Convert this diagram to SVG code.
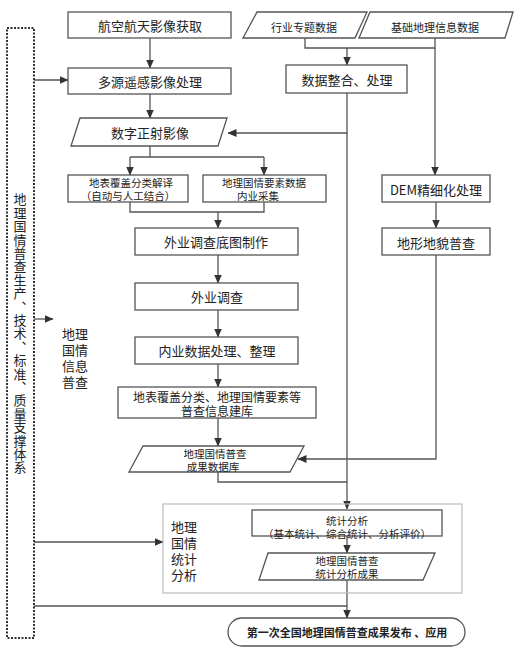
<svg xmlns="http://www.w3.org/2000/svg" width="531" height="650" viewBox="0 0 531 650">
<defs>
<marker id="arr" markerWidth="9" markerHeight="8" refX="8.5" refY="4" orient="auto" markerUnits="userSpaceOnUse">
<path d="M0,0 L9,4 L0,8 Z" fill="#333"/>
</marker>
<style>
.box{fill:#fff;stroke:#555;stroke-width:1.3}
.ln{fill:none;stroke:#555;stroke-width:1.3}
.t{font-family:"Noto Sans CJK SC","Noto Sans",sans-serif;fill:#222;text-anchor:middle;dominant-baseline:central}
.t13{font-size:13px}
.t11{font-size:11px}
.t10{font-size:10.5px}
.t12{font-size:12px}
</style>
</defs>
<rect width="531" height="650" fill="#fff"/>

<g id="connectors">
<path class="ln" d="M150,38 V68" marker-end="url(#arr)"/>
<path class="ln" d="M150,94 V118" marker-end="url(#arr)"/>
<path class="ln" d="M34,80 H68" marker-end="url(#arr)"/>
<path class="ln" d="M150,146 V157 M130,157 H264"/>
<path class="ln" d="M130,157 V175" marker-end="url(#arr)"/>
<path class="ln" d="M264,157 V175" marker-end="url(#arr)"/>
<path class="ln" d="M130,202 V212 H264 V202"/>
<path class="ln" d="M218,212 V228" marker-end="url(#arr)"/>
<path class="ln" d="M218,255 V283" marker-end="url(#arr)"/>
<path class="ln" d="M218,310 V337" marker-end="url(#arr)"/>
<path class="ln" d="M218,364 V387" marker-end="url(#arr)"/>
<path class="ln" d="M218,418 V446" marker-end="url(#arr)"/>
<path class="ln" d="M305,38 V48 H435 V38"/>
<path class="ln" d="M347,48 V65" marker-end="url(#arr)"/>
<path class="ln" d="M435,48 V175" marker-end="url(#arr)"/>
<path class="ln" d="M436,202 V228" marker-end="url(#arr)"/>
<path class="ln" d="M347,93 V133 H228" marker-end="url(#arr)"/>
<path class="ln" d="M347,133 V509" marker-end="url(#arr)"/>
<path class="ln" d="M436,255 V459 H298" marker-end="url(#arr)"/>
<path class="ln" d="M218,472 V482 H347"/>
<path class="ln" d="M34,319 H53" marker-end="url(#arr)"/>
<path class="ln" d="M34,542 H163" marker-end="url(#arr)"/>
<path class="ln" d="M347,536 V553" marker-end="url(#arr)"/>
<path class="ln" d="M347,580 V618" marker-end="url(#arr)"/>
<path class="ln" d="M34,606 H347"/>
</g>

<g id="support">
<rect x="7" y="28" width="27" height="610" fill="none" stroke="#333" stroke-width="2" stroke-dasharray="2,1.5"/>
<text class="t" font-size="13" x="20" y="193" style="writing-mode:vertical-rl;text-anchor:start;dominant-baseline:central" letter-spacing="0.4">地理国情普查生产、技术、标准、质量支撑体系</text>
</g>

<g id="census-label">
<text class="t t13" x="75" y="333">地理<tspan x="75" dy="16">国情</tspan><tspan x="75" dy="16">信息</tspan><tspan x="75" dy="16">普查</tspan></text>
</g>

<g id="n1"><rect class="box" x="68" y="12" width="163" height="26"/><text class="t t13" x="150" y="25">航空航天影像获取</text></g>
<g id="n2"><rect class="box" x="68" y="68" width="163" height="26"/><text class="t t13" x="150" y="81">多源遥感影像处理</text></g>
<g id="n3"><polygon class="box" points="80,118 227,118 218,146 71,146"/><text class="t t13" x="150" y="132">数字正射影像</text></g>
<g id="n4"><rect class="box" x="68" y="175" width="120" height="27"/><text class="t t10" x="131" y="182">地表覆盖分类解译<tspan x="128" dy="13">（自动与人工结合）</tspan></text></g>
<g id="n5"><rect class="box" x="203" y="175" width="123" height="27"/><text class="t t10" x="264" y="182">地理国情要素数据<tspan x="258" dy="13">内业采集</tspan></text></g>
<g id="n6"><rect class="box" x="135" y="228" width="163" height="27"/><text class="t t13" x="216" y="241">外业调查底图制作</text></g>
<g id="n7"><rect class="box" x="135" y="283" width="163" height="27"/><text class="t t13" x="217" y="296">外业调查</text></g>
<g id="n8"><rect class="box" x="135" y="337" width="163" height="27"/><text class="t t13" x="217" y="350">内业数据处理、整理</text></g>
<g id="n9"><rect class="box" x="118" y="387" width="198" height="31"/><text class="t t12" x="217" y="396">地表覆盖分类、地理国情要素等<tspan x="217" dy="14">普查信息建库</tspan></text></g>
<g id="n10"><polygon class="box" points="143,446 304,446 290,472 129,472"/><text class="t t10" x="215" y="453">地理国情普查<tspan x="213" dy="13">成果数据库</tspan></text></g>

<g id="n11"><polygon class="box" points="257,12 367,12 355,38 243,38"/><text class="t t11" x="304" y="27">行业专题数据</text></g>
<g id="n12"><polygon class="box" points="370,12 513,12 505,38 359,38"/><text class="t t11" x="435" y="27">基础地理信息数据</text></g>
<g id="n13"><rect class="box" x="286" y="65" width="121" height="28"/><text class="t t13" x="347" y="79">数据整合、处理</text></g>
<g id="n14"><rect class="box" x="382" y="175" width="108" height="27"/><text class="t t13" x="436" y="189">DEM精细化处理</text></g>
<g id="n15"><rect class="box" x="382" y="228" width="108" height="27"/><text class="t t13" x="436" y="242">地形地貌普查</text></g>

<g id="stats-group">
<rect x="163" y="504" width="299" height="89" fill="none" stroke="#bbb" stroke-width="1.2"/>
<text class="t t13" x="184" y="526">地理<tspan x="184" dy="16">国情</tspan><tspan x="184" dy="16">统计</tspan><tspan x="184" dy="16">分析</tspan></text>
</g>
<g id="n16"><rect class="box" x="252" y="510" width="190" height="26"/><text class="t t10" x="347" y="520">统计分析<tspan x="347" dy="13">（基本统计、综合统计、分析评价）</tspan></text></g>
<g id="n17"><polygon class="box" points="268,553 435,553 423,580 259,580"/><text class="t t10" x="347" y="560">地理国情普查<tspan x="347" dy="13">统计分析成果</tspan></text></g>
<g id="n18"><rect class="box" x="228" y="618" width="237" height="28" rx="14" ry="14" stroke-width="1.5"/><text class="t t11" x="347" y="632" font-weight="bold">第一次全国地理国情普查成果发布 、应用</text></g>
</svg>
